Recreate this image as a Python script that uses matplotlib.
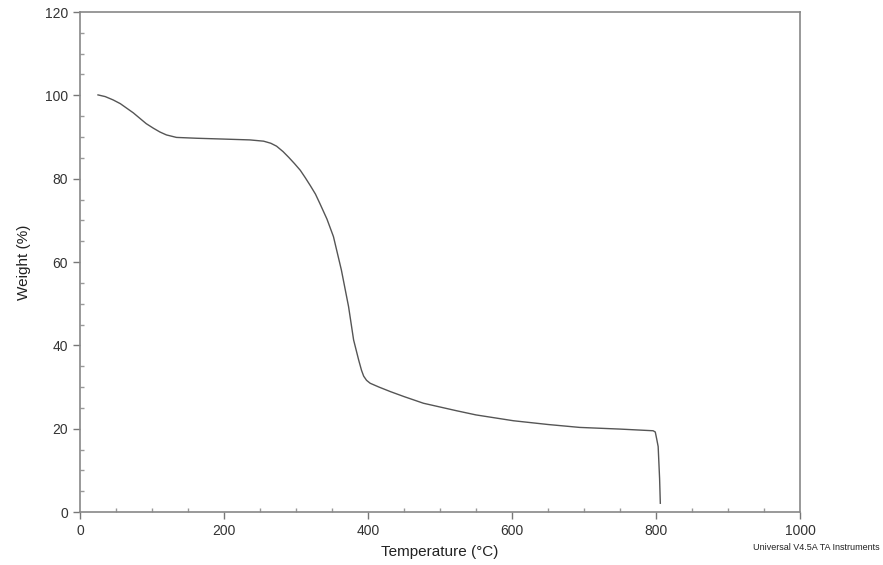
import matplotlib.pyplot as plt
from matplotlib.ticker import MultipleLocator

plt.rcParams['font.family'] = ['Liberation Sans', 'DejaVu Sans']

# --- Data ---
temperature = [25, 35, 46, 56, 65, 74, 83, 92, 102, 111, 120, 134, 162, 200, 236,
               255, 265, 273, 282, 290, 298, 306, 313, 320, 327, 333, 343, 352,
               363, 373, 380, 387, 391, 394, 398, 403, 415, 431, 450, 477, 523,
               550, 602, 650, 694, 750, 796, 799, 801, 803, 805, 806]
weight = [100.1, 99.7, 98.9, 98.0, 96.9, 95.8, 94.5, 93.2, 92.1, 91.2, 90.5, 89.9,
          89.7, 89.5, 89.3, 89.0, 88.5, 87.8, 86.5, 85.1, 83.6, 82.0, 80.2, 78.3,
          76.3, 74.1, 70.3, 66.1, 58.1, 49.3, 41.3, 36.5, 34.0, 32.6, 31.6, 30.9,
          30.0, 28.9, 27.7, 26.1, 24.3, 23.3, 21.9, 21.0, 20.3, 19.9, 19.5, 19.2,
          17.5, 15.7, 8.0, 2.1]

x_ticks = [0, 200, 400, 600, 800, 1000]
y_ticks = [0, 20, 40, 60, 80, 100, 120]

# --- Plot ---
fig = plt.figure(figsize=(8.83, 5.65), dpi=100)
ax = fig.add_axes([80 / 883, 53 / 565, 720 / 883, 500 / 565])

ax.plot(temperature, weight, color='#555555', linewidth=1.0)

ax.set_xlim(0, 1000)
ax.set_ylim(0, 120)
ax.set_xticks(x_ticks)
ax.set_yticks(y_ticks)
ax.xaxis.set_minor_locator(MultipleLocator(50))
ax.yaxis.set_minor_locator(MultipleLocator(5))

ax.tick_params(which='major', direction='out', length=5, width=1,
               color='#777777', labelcolor='#333333', labelsize=10)
ax.tick_params(which='minor', direction='in', length=3, width=1, color='#999999')

for s in ax.spines.values():
    s.set_color('#888888')
    s.set_linewidth(1.2)

ax.set_xlabel('Temperature (°C)', fontsize=11, color='#222222', labelpad=5)
ax.set_ylabel('Weight (%)', fontsize=11, color='#222222', labelpad=10)

fig.text(880 / 883, 18 / 565, 'Universal V4.5A TA Instruments',
         ha='right', va='center', fontsize=6.5, color='#222222')

fig.savefig('out.png', dpi=100)
